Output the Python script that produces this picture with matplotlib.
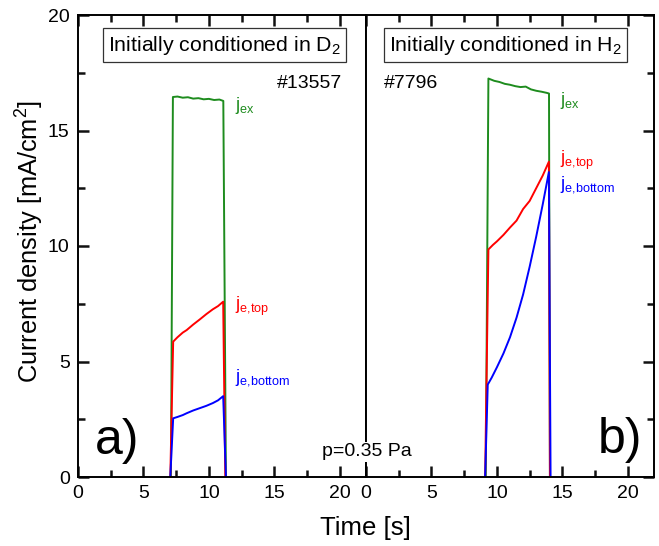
import matplotlib
matplotlib.use("Agg")
import matplotlib.pyplot as plt
from matplotlib.ticker import MultipleLocator

plt.rcParams['font.family'] = ['Liberation Sans', 'DejaVu Sans']
plt.rcParams['mathtext.fontset'] = 'custom'
plt.rcParams['mathtext.rm'] = 'Liberation Sans'
plt.rcParams['mathtext.it'] = 'Liberation Sans:italic'

# ---- data: panel a) (initially conditioned in D2, #13557) ----
a_t_ex = [7.1, 7.25, 7.6, 8.0, 8.4, 8.8, 9.2, 9.6, 10.0, 10.4, 10.8, 11.1, 11.3]
a_ex = [0.0, 16.45, 16.47, 16.42, 16.44, 16.38, 16.40, 16.35, 16.37, 16.32, 16.34, 16.28, 0.0]
a_t_top = [7.05, 7.27, 7.6, 8.0, 8.3, 8.8, 9.3, 9.8, 10.3, 10.7, 11.09, 11.25]
a_top = [0.0, 5.86, 6.05, 6.25, 6.36, 6.6, 6.82, 7.05, 7.26, 7.4, 7.59, 0.0]
a_t_bot = [7.05, 7.27, 7.6, 8.0, 8.3, 8.8, 9.3, 9.8, 10.3, 10.7, 11.09, 11.3]
a_bot = [0.0, 2.54, 2.6, 2.68, 2.76, 2.88, 2.98, 3.08, 3.2, 3.32, 3.5, 0.0]

# ---- data: panel b) (initially conditioned in H2, #7796) ----
b_t_ex = [9.15, 9.35, 9.8, 10.2, 10.6, 11.0, 11.4, 11.8, 12.2, 12.6, 13.0, 13.4, 13.8, 13.98, 14.05]
b_ex = [0.0, 17.25, 17.15, 17.1, 17.02, 16.98, 16.92, 16.88, 16.9, 16.78, 16.72, 16.68, 16.63, 16.6, 0.0]
b_t_top = [9.1, 9.35, 9.7, 10.0, 10.5, 11.0, 11.5, 12.0, 12.5, 13.0, 13.5, 13.97, 14.05]
b_top = [0.0, 9.85, 10.05, 10.2, 10.48, 10.8, 11.1, 11.6, 11.95, 12.5, 13.05, 13.65, 0.0]
b_t_bot = [9.1, 9.3, 9.6, 10.0, 10.5, 11.0, 11.5, 12.0, 12.5, 13.0, 13.5, 13.97, 14.1]
b_bot = [0.0, 4.0, 4.3, 4.75, 5.35, 6.05, 6.9, 7.9, 9.1, 10.4, 11.8, 13.2, 0.0]

x_ticks = [0, 5, 10, 15, 20]
y_ticks = [0, 5, 10, 15, 20]

GREEN = '#1e8c1e'
RED = '#ff0000'
BLUE = '#0000ff'

fig = plt.figure(figsize=(6.59, 5.46), dpi=100)
W, H = 659, 546
def rect(x0, x1, y0, y1):
    return [x0 / W, 1 - y1 / H, (x1 - x0) / W, (y1 - y0) / H]

axa = fig.add_axes(rect(78, 366, 15, 477))
axb = fig.add_axes(rect(366, 654, 15, 477))

lw = 1.4
for ax in (axa, axb):
    ax.set_xlim(0, 22)
    ax.set_ylim(0, 20)
    ax.set_xticks(x_ticks)
    ax.set_yticks(y_ticks)
    ax.xaxis.set_minor_locator(MultipleLocator(2.5))
    ax.yaxis.set_minor_locator(MultipleLocator(2.5))
    for s in ax.spines.values():
        s.set_linewidth(1.4)
    ax.tick_params(axis='both', which='major', direction='in', length=8, width=1.8,
                   color='#111111', labelsize=14, pad=6)
    ax.tick_params(axis='both', which='minor', direction='in', length=5, width=1.8,
                   color='#111111')

axa.tick_params(axis='x', which='both', top=True, bottom=True)
axa.tick_params(axis='y', which='both', left=True, right=False)
axb.tick_params(axis='x', which='both', top=True, bottom=True)
axb.tick_params(axis='y', which='both', left=False, right=True, labelleft=False, labelright=False)

axa.plot(a_t_ex, a_ex, color=GREEN, lw=lw)
axa.plot(a_t_top, a_top, color=RED, lw=lw)
axa.plot(a_t_bot, a_bot, color=BLUE, lw=lw)
axb.plot(b_t_ex, b_ex, color=GREEN, lw=lw)
axb.plot(b_t_top, b_top, color=RED, lw=lw)
axb.plot(b_t_bot, b_bot, color=BLUE, lw=lw)

# labels
lab_fs = 13
axa.text(12.0, 16.1, r'j$_{\mathrm{ex}}$', color=GREEN, fontsize=lab_fs, va='center')
axa.text(12.0, 7.4, r'j$_{\mathrm{e{,}top}}$', color=RED, fontsize=lab_fs, va='center')
axa.text(12.0, 4.3, r'j$_{\mathrm{e{,}bottom}}$', color=BLUE, fontsize=lab_fs, va='center')
axb.text(14.8, 16.3, r'j$_{\mathrm{ex}}$', color=GREEN, fontsize=lab_fs, va='center')
axb.text(14.8, 13.7, r'j$_{\mathrm{e{,}top}}$', color=RED, fontsize=lab_fs, va='center')
axb.text(14.8, 12.65, r'j$_{\mathrm{e{,}bottom}}$', color=BLUE, fontsize=lab_fs, va='center')

boxprops = dict(boxstyle='square,pad=0.25', facecolor='white', edgecolor='#333333', linewidth=0.9)
axa.text(11.2, 18.7, r'Initially conditioned in D$_2$', fontsize=15.3, ha='center', va='center', bbox=boxprops)
axb.text(10.65, 18.7, r'Initially conditioned in H$_2$', fontsize=15.3, ha='center', va='center', bbox=boxprops)

axa.text(20.2, 17.05, '#13557', fontsize=14, ha='right', va='center')
axb.text(1.35, 17.05, '#7796', fontsize=14, ha='left', va='center')

axa.text(1.3, 1.55, 'a)', fontsize=36, ha='left', va='center')
axb.text(17.7, 1.6, 'b)', fontsize=36, ha='left', va='center')

fig.text(367 / W, 1 - 452 / H, 'p=0.35 Pa', fontsize=14, ha='center', va='center',
         bbox=dict(facecolor='white', edgecolor='none', pad=1.0), zorder=10)

fig.text(30 / W, 1 - 241 / H, 'Current density [mA/cm$^2$]', fontsize=18.3,
         rotation=90, ha='center', va='center')
fig.text(365 / W, 1 - 528 / H, 'Time [s]', fontsize=18.5, ha='center', va='center')

fig.savefig('out.png', dpi=100)
